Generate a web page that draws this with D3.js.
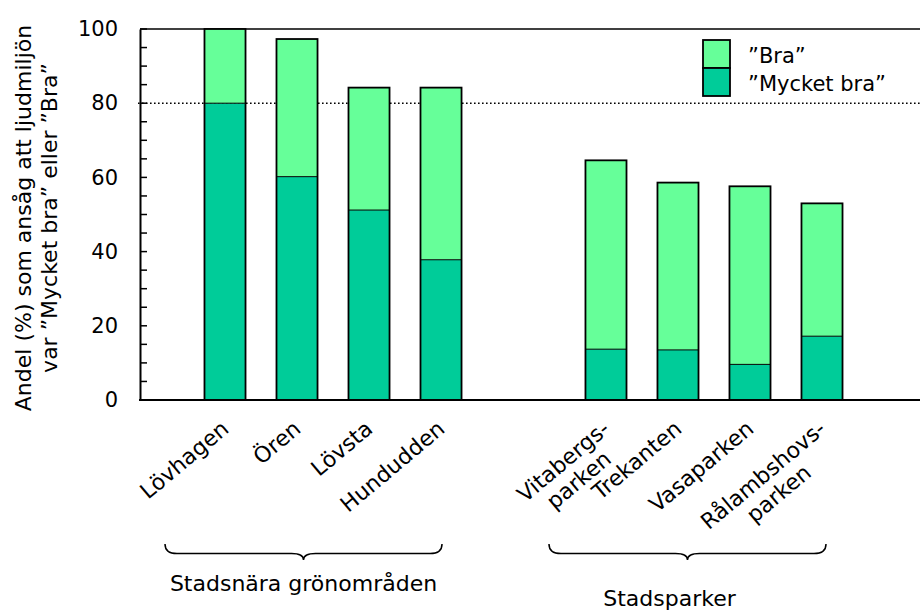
<!DOCTYPE html>
<html><head><meta charset="utf-8">
<script src="https://cdn.jsdelivr.net/npm/d3@7"></script>
<style>
body{margin:0;background:#fff;}
svg{display:block;font-family:Verdana,"DejaVu Sans",sans-serif;}
</style></head>
<body><svg id="c" width="920" height="610"></svg>
<script>
const groups = ["Stadsnära grönområden", "Stadsparker"];
const categories = ["Lövhagen", "Ören", "Lövsta", "Hundudden", "Vitabergs-\nparken", "Trekanten", "Vasaparken", "Rålambshovs-\nparken"];
const categoryGroup = [0, 0, 0, 0, 1, 1, 1, 1];
const mycketBra = [80, 60.2, 51.2, 37.8, 13.7, 13.5, 9.6, 17.2];
const bra = [20, 37.1, 33, 46.4, 50.9, 45.1, 48, 35.8];
const seriesNames = ["”Bra”", "”Mycket bra”"];
const yTicks = [0, 20, 40, 60, 80, 100];
const yTitle = ["Andel (%) som ansåg att  ljudmiljön", "var ”Mycket bra” eller ”Bra”"];
const refLine = 80;

const colBra = "#66FF99", colMB = "#00CC99";
const FONT = 'Verdana,"DejaVu Sans",sans-serif';
const svg = d3.select("#c");
const y = d3.scaleLinear().domain([0, 100]).range([400, 29]);
const xGroup = d3.scaleBand().domain(groups).range([189, 858]).paddingInner(0.244);
const xInner = d3.scaleBand().domain(d3.range(4)).range([0, xGroup.bandwidth()]).paddingInner(0.43).paddingOuter(0.215);
const idxInGroup = categories.map((c, i) => categoryGroup.slice(0, i).filter(g => g === categoryGroup[i]).length);
const xL = i => xGroup(groups[categoryGroup[i]]) + xInner(idxInGroup[i]);
const bw = xInner.bandwidth();

// top border
svg.append("line").attr("x1", 140).attr("x2", 920).attr("y1", y(100)).attr("y2", y(100)).attr("stroke", "#000").attr("stroke-width", 1.5);
// reference dotted line
svg.append("line").attr("x1", 138).attr("x2", 920).attr("y1", y(refLine)).attr("y2", y(refLine))
  .attr("stroke", "#000").attr("stroke-width", 1.6).attr("stroke-dasharray", "1.6,2.4");

// bars
const bars = svg.append("g");
categories.forEach((c, i) => {
  const total = mycketBra[i] + bra[i];
  bars.append("rect").attr("x", xL(i)).attr("width", bw).attr("y", y(mycketBra[i])).attr("height", y(0) - y(mycketBra[i]))
    .attr("fill", colMB).attr("stroke", "none");
  bars.append("rect").attr("x", xL(i)).attr("width", bw).attr("y", y(total)).attr("height", y(mycketBra[i]) - y(total))
    .attr("fill", colBra).attr("stroke", "none");
  bars.append("line").attr("x1", xL(i)).attr("x2", xL(i) + bw).attr("y1", y(mycketBra[i])).attr("y2", y(mycketBra[i]))
    .attr("stroke", "#000").attr("stroke-width", 1);
  bars.append("rect").attr("x", xL(i)).attr("width", bw).attr("y", y(total)).attr("height", y(0) - y(total))
    .attr("fill", "none").attr("stroke", "#000").attr("stroke-width", 1.8);
});

// y axis
const yAxis = d3.axisLeft(y).tickValues(yTicks).tickSize(0).tickPadding(22).tickFormat(d3.format("d"));
const ga = svg.append("g").attr("transform", "translate(140,0)").call(yAxis);
ga.select(".domain").attr("stroke-width", 2);
ga.selectAll("text").attr("font-size", 21).attr("fill", "#000").attr("font-family", FONT);
const minor = d3.range(0, 101, 5);
svg.append("g").selectAll("line").data(minor).join("line")
  .attr("x1", 140).attr("x2", 147).attr("y1", d => y(d)).attr("y2", d => y(d)).attr("stroke", "#000").attr("stroke-width", 1.5);
// x axis line
svg.append("line").attr("x1", 139).attr("x2", 920).attr("y1", y(0)).attr("y2", y(0)).attr("stroke", "#000").attr("stroke-width", 2.2);

// y title
yTitle.forEach((t, k) => {
  svg.append("text").attr("transform", `translate(${k === 0 ? 31 : 57},218) rotate(-90)`)
    .attr("text-anchor", "middle").attr("font-size", 22).text(t);
});

// category labels
categories.forEach((c, i) => {
  const lines = c.split("\n");
  const g = svg.append("g").attr("transform", `translate(${xL(i) + bw / 2 - 5},${y(0) + 19}) rotate(-40)`);
  const t = g.append("text").attr("font-size", 22);
  const tmp = lines.map(l => { const s = g.append("text").attr("font-size", 22).text(l); const w = s.node().getComputedTextLength(); s.remove(); return w; });
  const maxW = d3.max(tmp);
  lines.forEach((l, k) => {
    t.append("tspan").attr("x", -maxW / 2).attr("y", 0).attr("dy", (0.72 + k * 1.1) + "em").attr("text-anchor", "middle").text(l);
  });
});

// braces
function brace(x1, x2, y0, h) {
  const m = (x1 + x2) / 2, q = 12, yh = y0 + h * 0.6;
  return `M${x1},${y0} Q${x1},${yh} ${x1 + q},${yh} L${m - q},${yh} Q${m},${yh} ${m},${y0 + h} Q${m},${yh} ${m + q},${yh} L${x2 - q},${yh} Q${x2},${yh} ${x2},${y0}`;
}
const braceOff = [[-24, -35, 0, 591], [-21, -32, -18, 606]];
groups.forEach((gname, k) => {
  const x1 = xGroup(gname) + braceOff[k][0], x2 = xGroup(gname) + xGroup.bandwidth() + braceOff[k][1];
  svg.append("path").attr("d", brace(x1, x2, 544, 16)).attr("fill", "none").attr("stroke", "#000").attr("stroke-width", 1.5);
  svg.append("text").attr("x", (x1 + x2) / 2 + braceOff[k][2]).attr("y", braceOff[k][3]).attr("text-anchor", "middle").attr("font-size", 22).text(gname);
});

// legend
const legY = [40, 68];
const legCol = [colBra, colMB];
seriesNames.forEach((s, k) => {
  svg.append("rect").attr("x", 703).attr("y", legY[k]).attr("width", 27).attr("height", 28).attr("fill", legCol[k]).attr("stroke", "#000").attr("stroke-width", 1.8);
  svg.append("text").attr("x", 748).attr("y", legY[k] + 23).attr("font-size", 21).text(s);
});
</script></body></html>
